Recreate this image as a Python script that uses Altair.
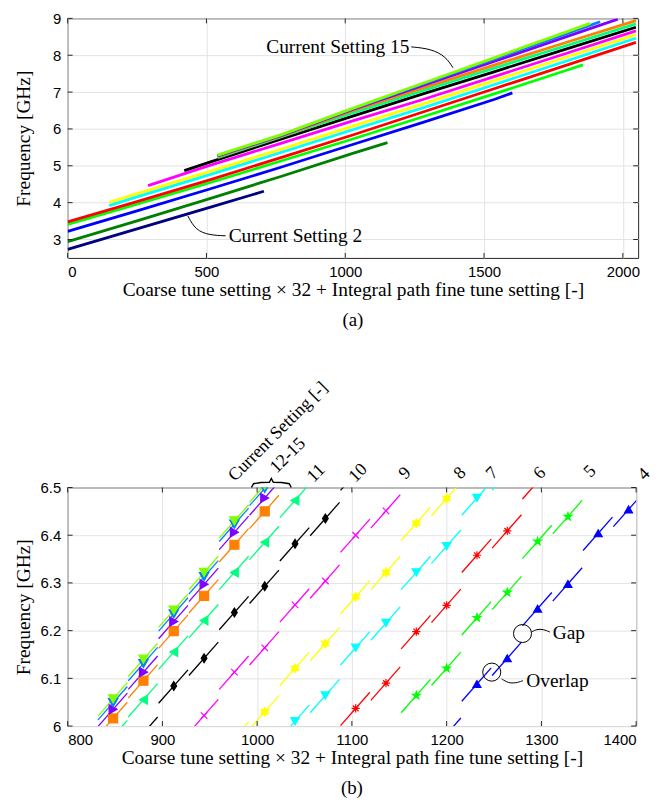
import math
import altair as alt
import pandas as pd

# ------------------------------------------------------------------ data
SETTINGS = [2, 3, 4, 5, 6, 7, 8, 9, 10, 11, 12, 13, 14, 15]
COLORS = ["#000080", "#008000", "#0000ff", "#00ff00", "#ff0000", "#00ffff", "#ffff00",
          "#ff00ff", "#000000", "#00ff80", "#ff8000", "#8000ff", "#0080ff", "#80ff00"]

# (a) frequency traces read along each current setting
TOP_CODE_2 = [0, 256, 512, 707]
TOP_FREQ_2 = [2.73, 3.30, 3.87, 4.31]
TOP_CODE_3 = [0, 256, 512, 768, 1024, 1152]
TOP_FREQ_3 = [2.94, 3.52, 4.11, 4.71, 5.33, 5.63]
TOP_CODE_4 = [0, 256, 512, 768, 1024, 1280, 1536, 1602]
TOP_FREQ_4 = [3.22, 3.79, 4.37, 4.96, 5.57, 6.18, 6.80, 6.98]
TOP_CODE_5 = [0, 256, 512, 768, 1024, 1280, 1536, 1792, 1856]
TOP_FREQ_5 = [3.41, 3.97, 4.54, 5.13, 5.72, 6.33, 6.95, 7.58, 7.74]
TOP_CODE_6 = [0, 256, 512, 768, 1024, 1280, 1536, 1792, 2047]
TOP_FREQ_6 = [3.48, 4.04, 4.62, 5.22, 5.83, 6.46, 7.09, 7.72, 8.35]
TOP_CODE_7 = [150, 256, 512, 768, 1024, 1280, 1536, 1792, 2047]
TOP_FREQ_7 = [3.92, 4.17, 4.76, 5.36, 5.97, 6.57, 7.20, 7.83, 8.46]
TOP_CODE_8 = [150, 256, 512, 768, 1024, 1280, 1536, 1792, 2047]
TOP_FREQ_8 = [4.01, 4.26, 4.85, 5.45, 6.07, 6.68, 7.31, 7.94, 8.56]
TOP_CODE_9 = [290, 512, 768, 1024, 1280, 1536, 1792, 2047]
TOP_FREQ_9 = [4.46, 5.01, 5.61, 6.21, 6.80, 7.42, 8.04, 8.66]
TOP_CODE_10 = [420, 512, 768, 1024, 1280, 1536, 1792, 2047]
TOP_FREQ_10 = [4.87, 5.10, 5.72, 6.34, 6.95, 7.55, 8.16, 8.76]
TOP_CODE_11 = [540, 768, 1024, 1280, 1536, 1792, 2047]
TOP_FREQ_11 = [5.22, 5.78, 6.43, 7.04, 7.65, 8.25, 8.85]
TOP_CODE_12 = [540, 768, 1024, 1280, 1536, 1792, 2047]
TOP_FREQ_12 = [5.25, 5.80, 6.49, 7.11, 7.73, 8.34, 8.94]
TOP_CODE_13 = [540, 768, 1024, 1280, 1536, 1792, 1982]
TOP_FREQ_13 = [5.27, 5.82, 6.52, 7.18, 7.83, 8.49, 8.98]
TOP_CODE_14 = [540, 768, 1024, 1280, 1536, 1792, 1918]
TOP_FREQ_14 = [5.28, 5.83, 6.54, 7.22, 7.90, 8.57, 8.91]
TOP_CODE_15 = [540, 768, 1024, 1280, 1536, 1792, 1882]
TOP_FREQ_15 = [5.29, 5.84, 6.55, 7.24, 7.93, 8.62, 8.865]

# (b) one segment per coarse setting: code at fine-tune midpoint and its frequency
BOT_CODE_4 = [1200, 1232, 1264, 1296, 1328, 1360, 1392]
BOT_FREQ_4 = [5.983, 6.088, 6.142, 6.246, 6.298, 6.404, 6.454]
BOT_CODE_5 = [1168, 1200, 1232, 1264, 1296, 1328]
BOT_FREQ_5 = [6.064, 6.121, 6.227, 6.280, 6.387, 6.439]
BOT_CODE_6 = [1104, 1136, 1168, 1200, 1232, 1264, 1296]
BOT_FREQ_6 = [6.037, 6.090, 6.198, 6.253, 6.358, 6.409, 6.512]
BOT_CODE_7 = [1040, 1072, 1104, 1136, 1168, 1200, 1232, 1264]
BOT_FREQ_7 = [6.010, 6.064, 6.164, 6.216, 6.322, 6.377, 6.478, 6.530]
BOT_CODE_8 = [976, 1008, 1040, 1072, 1104, 1136, 1168, 1200]
BOT_FREQ_8 = [5.975, 6.030, 6.121, 6.173, 6.271, 6.322, 6.425, 6.477]
BOT_CODE_9 = [944, 976, 1008, 1040, 1072, 1104, 1136]
BOT_FREQ_9 = [6.022, 6.113, 6.164, 6.254, 6.304, 6.400, 6.451]
BOT_CODE_10 = [880, 912, 944, 976, 1008, 1040, 1072, 1104]
BOT_FREQ_10 = [5.985, 6.084, 6.142, 6.238, 6.293, 6.382, 6.435, 6.530]
BOT_CODE_11 = [848, 880, 912, 944, 976, 1008, 1040]
BOT_FREQ_11 = [5.978, 6.055, 6.155, 6.221, 6.322, 6.385, 6.473]
BOT_CODE_12 = [848, 880, 912, 944, 976, 1008]
BOT_FREQ_12 = [6.016, 6.095, 6.199, 6.273, 6.380, 6.450]
BOT_CODE_13 = [848, 880, 912, 944, 976, 1008]
BOT_FREQ_13 = [6.035, 6.113, 6.219, 6.297, 6.406, 6.478]
BOT_CODE_14 = [848, 880, 912, 944, 976, 1008]
BOT_FREQ_14 = [6.049, 6.131, 6.235, 6.313, 6.423, 6.498]
BOT_CODE_15 = [848, 880, 912, 944, 976, 1008]
BOT_FREQ_15 = [6.057, 6.140, 6.243, 6.322, 6.430, 6.505]
SEGMENT_SPAN_GHZ = 0.07      # frequency covered by the 32 fine-tune codes

BOT_LABEL_TEXT = ["4", "5", "6", "7", "8", "9", "10", "11", "12-15", "Current Setting [-]"]
BOT_LABEL_CODE = [1405, 1348, 1295, 1245, 1211, 1153, 1100, 1056, 1017, 973]
BOT_LABEL_FREQ = [6.521, 6.527, 6.523, 6.523, 6.523, 6.523, 6.517, 6.517, 6.536, 6.519]

# ------------------------------------------------------------------ frames
g = globals()
top_rows, seg_rows, mk_rows = [], [], []
for s in SETTINGS:
    key = f"S{s:02d}"
    for c, f in zip(g[f"TOP_CODE_{s}"], g[f"TOP_FREQ_{s}"]):
        top_rows.append({"setting": key, "code": c, "freq": f})
    if f"BOT_CODE_{s}" in g:
        for c, f in zip(g[f"BOT_CODE_{s}"], g[f"BOT_FREQ_{s}"]):
            sid = f"{key}_{c}"
            seg_rows.append({"setting": key, "seg": sid, "code": c - 16, "freq": f - SEGMENT_SPAN_GHZ * 16 / 31})
            seg_rows.append({"setting": key, "seg": sid, "code": c + 15, "freq": f + SEGMENT_SPAN_GHZ * 15 / 31})
            mk_rows.append({"setting": key, "code": c, "freq": f})
df_top = pd.DataFrame(top_rows)
df_seg = pd.DataFrame(seg_rows)
df_mk = pd.DataFrame(mk_rows)
KEYS = [f"S{s:02d}" for s in SETTINGS]
color_scale = alt.Scale(domain=KEYS, range=COLORS)


def star(n, r_in):
    pts = []
    for i in range(2 * n):
        r = 1 if i % 2 == 0 else r_in
        a = -math.pi / 2 + i * math.pi / n
        pts.append((r * math.cos(a), r * math.sin(a)))
    return "M" + "L".join(f"{x:.3f},{y:.3f}" for x, y in pts) + "Z"


PENT = star(5, 0.382)
HEX = star(6, 0.577)
AST = "M0,-1L0,1M-1,0L1,0M-0.7,-0.7L0.7,0.7M-0.7,0.7L0.7,-0.7"
XSH = "M-0.75,-0.75L0.75,0.75M-0.75,0.75L0.75,-0.75"
DIA = "M0,-1L0.65,0L0,1L-0.65,0Z"
MK_KEYS = KEYS[2:]
MK_SHAPES = ["triangle-up", PENT, AST, "triangle-down", HEX, XSH, DIA,
             "triangle-left", "square", "triangle-right", "triangle-down", "triangle-down"]
MK_SIZES = [64, 90, 70, 64, 90, 50, 70, 64, 40, 64, 64, 64]

SERIF = "Liberation Serif"
SANS = "Liberation Sans"
XTITLE = "Coarse tune setting \u00d7 32 + Integral path fine tune setting [-]"


def ticks_layer(xvals, yvals, xs, ys, W, H, L=5):
    dx = pd.DataFrame({"code": xvals})
    dy = pd.DataFrame({"freq": yvals})
    base_x = alt.Chart(dx).mark_rule(color="#262626", strokeWidth=1)
    base_y = alt.Chart(dy).mark_rule(color="#262626", strokeWidth=1)
    return [
        base_x.encode(x=alt.X("code:Q", scale=xs), y=alt.value(H), y2=alt.value(H - L)),
        base_x.encode(x=alt.X("code:Q", scale=xs), y=alt.value(0), y2=alt.value(L)),
        base_y.encode(y=alt.Y("freq:Q", scale=ys), x=alt.value(0), x2=alt.value(L)),
        base_y.encode(y=alt.Y("freq:Q", scale=ys), x=alt.value(W), x2=alt.value(W - L)),
    ]


def yaxis(values, H, fmt):
    return alt.Axis(values=values, title="Frequency [GHz]", titleX=-34, titleY=H / 2, format=fmt)


def xaxis(values):
    return alt.Axis(values=values, title=XTITLE, format="d")


# ------------------------------------------------------------------ (a)
W1, H1 = 574, 241
xs1 = alt.Scale(domain=[0, 2055], nice=False, zero=False)
ys1 = alt.Scale(domain=[2.5, 9], nice=False, zero=False)

top_lines = alt.Chart(df_top).mark_line(strokeWidth=2.8, clip=True).encode(
    x=alt.X("code:Q", scale=xs1, axis=xaxis([0, 500, 1000, 1500, 2000])),
    y=alt.Y("freq:Q", scale=ys1, axis=yaxis([3, 4, 5, 6, 7, 8, 9], H1, "d")),
    color=alt.Color("setting:N", scale=color_scale, legend=None),
)

lead15 = pd.DataFrame({"code": [1238, 1310, 1363, 1388], "freq": [8.227, 8.173, 7.957, 7.661]})
lead2 = pd.DataFrame({"code": [433, 461, 512, 569], "freq": [3.639, 3.251, 3.117, 3.100]})
ann_top = pd.DataFrame({"code": [1231, 580], "freq": [8.227, 3.10],
                        "txt": ["Current Setting 15", "Current Setting 2"],
                        "al": ["right", "left"]})

top_layers = [top_lines] + ticks_layer([0, 500, 1000, 1500, 2000], [3, 4, 5, 6, 7, 8, 9], xs1, ys1, W1, H1)
for d in (lead15, lead2):
    top_layers.append(alt.Chart(d).mark_line(color="black", strokeWidth=1, interpolate="basis").encode(
        x=alt.X("code:Q", scale=xs1), y=alt.Y("freq:Q", scale=ys1)))
top_layers.append(alt.Chart(ann_top[ann_top.al == "right"]).mark_text(
    align="right", baseline="middle", font=SERIF, fontSize=19.5, color="black").encode(
    x=alt.X("code:Q", scale=xs1), y=alt.Y("freq:Q", scale=ys1), text="txt:N"))
top_layers.append(alt.Chart(ann_top[ann_top.al == "left"]).mark_text(
    align="left", baseline="middle", font=SERIF, fontSize=19.5, color="black").encode(
    x=alt.X("code:Q", scale=xs1), y=alt.Y("freq:Q", scale=ys1), text="txt:N"))

top = alt.layer(*top_layers).properties(
    width=W1, height=H1,
    title=alt.TitleParams("(a)", orient="bottom", font=SERIF, fontSize=19, fontWeight="normal", offset=12))

# ------------------------------------------------------------------ (b)
W2, H2 = 572, 240
xs2 = alt.Scale(domain=[800, 1400], nice=False, zero=False)
ys2 = alt.Scale(domain=[6, 6.5], nice=False, zero=False)

segs = alt.Chart(df_seg).mark_line(strokeWidth=1.3, clip=True).encode(
    x=alt.X("code:Q", scale=xs2, axis=xaxis(list(range(800, 1401, 100)))),
    y=alt.Y("freq:Q", scale=ys2, axis=yaxis([6, 6.1, 6.2, 6.3, 6.4, 6.5], H2, ".1~f")),
    color=alt.Color("setting:N", scale=color_scale, legend=None),
    detail="seg:N",
)
marks = alt.Chart(df_mk).mark_point(filled=True, strokeWidth=1.2, opacity=1, clip=True).encode(
    x=alt.X("code:Q", scale=xs2), y=alt.Y("freq:Q", scale=ys2),
    fill=alt.Fill("setting:N", scale=color_scale, legend=None),
    stroke=alt.Stroke("setting:N", scale=color_scale, legend=None),
    shape=alt.Shape("setting:N", scale=alt.Scale(domain=MK_KEYS, range=MK_SHAPES), legend=None),
    size=alt.Size("setting:N", scale=alt.Scale(domain=MK_KEYS, range=MK_SIZES), legend=None),
)

circ = pd.DataFrame({"code": [1280.1, 1247.6], "freq": [6.194, 6.113]})
circles = alt.Chart(circ).mark_point(shape="circle", size=330, filled=False, color="black",
                                     strokeWidth=1, opacity=1).encode(
    x=alt.X("code:Q", scale=xs2), y=alt.Y("freq:Q", scale=ys2))
lead_gap = pd.DataFrame({"code": [1289.6, 1295, 1302, 1309], "freq": [6.197, 6.203, 6.203, 6.197]})
lead_ov = pd.DataFrame({"code": [1258, 1265, 1273, 1280.5], "freq": [6.099, 6.090, 6.090, 6.095]})
ann_bot = pd.DataFrame({"code": [1312, 1284], "freq": [6.194, 6.095], "txt": ["Gap", "Overlap"]})
brace = pd.DataFrame({"code": [994, 996.2, 1004, 1012.9, 1015, 1017.1, 1026, 1033.9, 1036],
                      "freq": [6.5, 6.508, 6.5104, 6.5108, 6.519, 6.5108, 6.5104, 6.508, 6.5]})
df_lab = pd.DataFrame({"code": BOT_LABEL_CODE, "freq": BOT_LABEL_FREQ, "txt": BOT_LABEL_TEXT})

bot_layers = [segs, marks] + ticks_layer(list(range(800, 1401, 100)), [6, 6.1, 6.2, 6.3, 6.4, 6.5],
                                          xs2, ys2, W2, H2)
bot_layers.append(circles)
for d in (lead_gap, lead_ov):
    bot_layers.append(alt.Chart(d).mark_line(color="black", strokeWidth=1, interpolate="basis").encode(
        x=alt.X("code:Q", scale=xs2), y=alt.Y("freq:Q", scale=ys2)))
bot_layers.append(alt.Chart(brace).mark_line(color="black", strokeWidth=1.4, interpolate="linear").encode(
    x=alt.X("code:Q", scale=xs2), y=alt.Y("freq:Q", scale=ys2)))
bot_layers.append(alt.Chart(ann_bot).mark_text(
    align="left", baseline="middle", font=SERIF, fontSize=19.5, color="black").encode(
    x=alt.X("code:Q", scale=xs2), y=alt.Y("freq:Q", scale=ys2), text="txt:N"))
bot_layers.append(alt.Chart(df_lab).mark_text(
    align="left", baseline="middle", font=SERIF, fontSize=18, color="black", angle=315).encode(
    x=alt.X("code:Q", scale=xs2), y=alt.Y("freq:Q", scale=ys2), text="txt:N"))

bottom = alt.layer(*bot_layers).properties(
    width=W2, height=H2,
    title=alt.TitleParams("(b)", orient="bottom", font=SERIF, fontSize=19, fontWeight="normal", offset=12))

chart = alt.vconcat(top, bottom, spacing=231, bounds="flush").properties(
    padding={"left": 5, "top": 0, "right": 5, "bottom": 5}
).configure_view(stroke="#262626", strokeWidth=1).configure_axis(
    labelFont=SANS, labelFontSize=15, labelColor="black", labelPadding=7,
    titleFont=SERIF, titleFontSize=19.5, titleFontWeight="normal", titleColor="black", titlePadding=1,
    gridColor="#e3e3e3", gridWidth=1, domain=False, ticks=False,
).configure_axisX(labelPadding=7)

chart.save("out.html", embed_options={"renderer": "svg", "actions": False})
